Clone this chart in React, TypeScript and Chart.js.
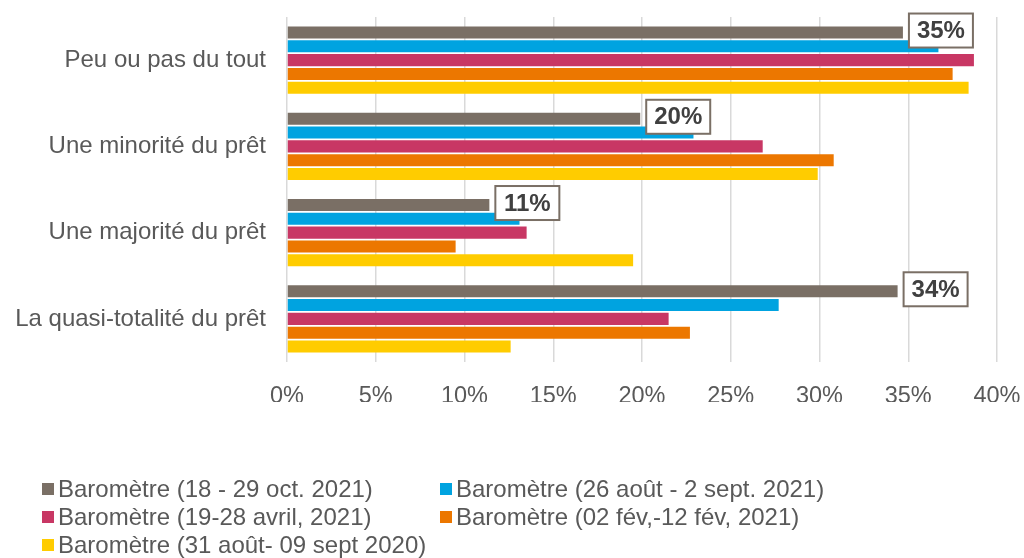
import React, { useEffect, useRef } from "react";
import { Chart, registerables } from "chart.js";

Chart.register(...registerables);

const categories = [
  "Peu ou pas du tout",
  "Une minorité du prêt",
  "Une majorité du prêt",
  "La quasi-totalité du prêt",
];

const seriesNames = [
  "Baromètre (18 - 29 oct. 2021)",
  "Baromètre (26 août - 2 sept. 2021)",
  "Baromètre (19-28 avril, 2021)",
  "Baromètre (02 fév,-12 fév, 2021)",
  "Baromètre (31 août- 09 sept 2020)",
];

const seriesColors = ["#7A6F65", "#00A3E0", "#C83764", "#EC7700", "#FFCC00"];

const oct2021 = [34.7, 19.9, 11.4, 34.4];
const sept2021 = [36.7, 22.9, 13.1, 27.7];
const avr2021 = [38.7, 26.8, 13.5, 21.5];
const fev2021 = [37.5, 30.8, 9.5, 22.7];
const sept2020 = [38.4, 29.9, 19.5, 12.6];

const seriesValues = [oct2021, sept2021, avr2021, fev2021, sept2020];

const xMin = 0;
const xMax = 40;
const xStep = 5;

const FONT = "'Liberation Sans', Arial, sans-serif";
const TEXT = "#595959";

const labelPlugin = {
  id: "boxedLabels",
  afterDatasetsDraw(chart: any) {
    const ctx = chart.ctx;
    const meta = chart.getDatasetMeta(0);
    ctx.save();
    meta.data.forEach((el: any, i: number) => {
      const v = oct2021[i];
      const txt = Math.round(v) + "%";
      const bx = el.x + 6;
      const bw = 64;
      const bh = 34;
      const by = el.y - bh / 2 - 2;
      ctx.fillStyle = "#ffffff";
      ctx.fillRect(bx, by, bw, bh);
      ctx.strokeStyle = "#7A6F65";
      ctx.lineWidth = 2;
      ctx.strokeRect(bx, by, bw, bh);
      ctx.fillStyle = "#404040";
      ctx.font = "bold 24px " + FONT;
      ctx.textAlign = "center";
      ctx.textBaseline = "middle";
      ctx.fillText(txt, bx + bw / 2, by + bh / 2 + 1);
    });
    ctx.restore();
  },
};

const legendPlugin = {
  id: "gridLegend",
  afterDraw(chart: any) {
    const ctx = chart.ctx;
    const colX = [42, 440];
    const rowY = [489, 517, 545];
    ctx.save();
    ctx.font = "24px " + FONT;
    ctx.textBaseline = "middle";
    ctx.textAlign = "left";
    seriesNames.forEach((name, i) => {
      const x = colX[i % 2];
      const y = rowY[Math.floor(i / 2)];
      ctx.fillStyle = seriesColors[i];
      ctx.fillRect(x, y - 6, 12, 12);
      ctx.fillStyle = TEXT;
      ctx.fillText(name, x + 16, y + 1);
    });
    ctx.restore();
  },
};

export default function App() {
  const ref = useRef<HTMLCanvasElement | null>(null);

  useEffect(() => {
    if (!ref.current) return;
    const chart = new Chart(ref.current, {
      type: "bar",
      data: {
        labels: categories,
        datasets: seriesNames.map((name, i) => ({
          label: name,
          data: seriesValues[i],
          backgroundColor: seriesColors[i],
          borderWidth: 0,
          categoryPercentage: 0.8,
          barPercentage: 0.87,
        })),
      },
      options: {
        indexAxis: "y",
        responsive: false,
        animation: false,
        layout: { padding: { top: 17, right: 27, bottom: 156, left: 0 } },
        plugins: {
          legend: { display: false },
          tooltip: { enabled: false },
        },
        scales: {
          x: {
            min: xMin,
            max: xMax,
            ticks: {
              stepSize: xStep,
              callback: (v: any) => v + "%",
              font: { family: FONT, size: 23.5 },
              color: TEXT,
              padding: 20,
            },
            grid: { color: "#D9D9D9", lineWidth: 1.5, drawTicks: false },
            border: { display: false },
            afterFit: (s: any) => {
              s.height = 40;
              s.paddingLeft = 0;
              s.paddingRight = 0;
            },
          },
          y: {
            ticks: {
              font: { family: FONT, size: 24 },
              color: TEXT,
              padding: 21,
            },
            grid: { display: false, drawTicks: false },
            border: { display: false },
            afterFit: (s: any) => {
              s.width = 287;
              s.paddingTop = 0;
              s.paddingBottom = 0;
            },
          },
        },
      },
      plugins: [labelPlugin, legendPlugin],
    });
    return () => chart.destroy();
  }, []);

  return (
    <div style={{ position: "fixed", left: 0, top: 0, width: 1024, height: 558, background: "#fff" }}>
      <canvas ref={ref} width={1024} height={558} style={{ width: 1024, height: 558 }} />
    </div>
  );
}
